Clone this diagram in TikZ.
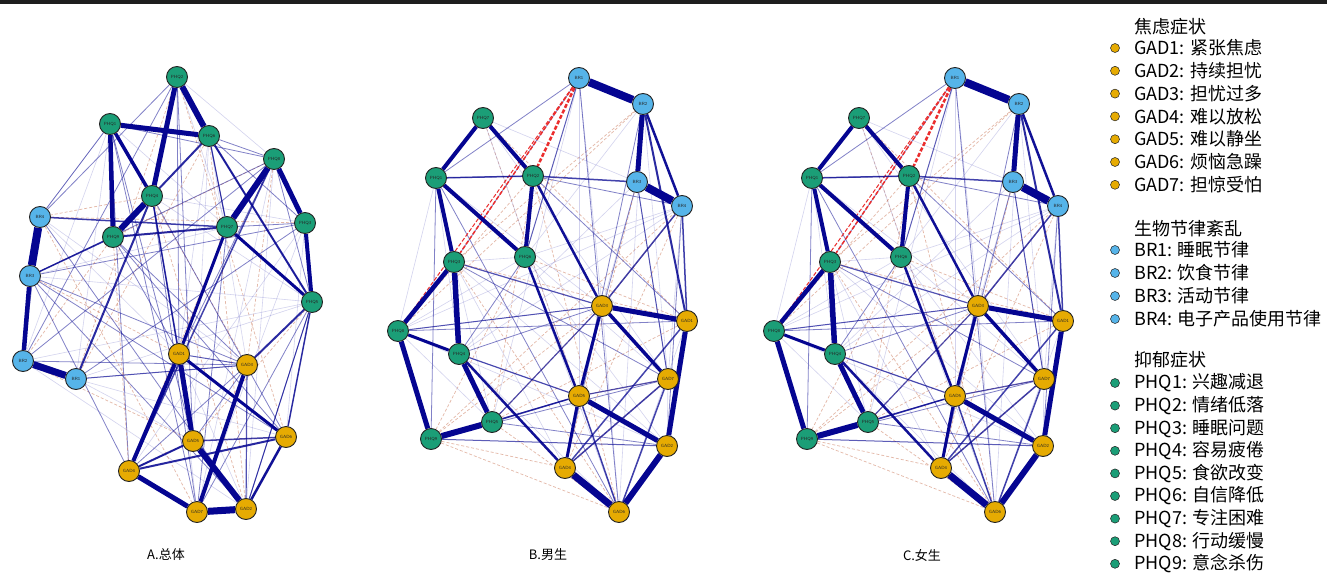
\documentclass[tikz,border=0pt]{standalone}
\usepackage{fontspec}
\newfontfamily\cjk{Noto Sans CJK SC}

\pgfdeclarelayer{bg}
\pgfdeclarelayer{web}
\pgfdeclarelayer{strong}
\pgfsetlayers{bg,web,strong,main}

\definecolor{gadc}{RGB}{230,171,2}
\definecolor{brc}{RGB}{86,180,233}
\definecolor{phqc}{RGB}{27,158,119}
\definecolor{edgeblue}{RGB}{5,5,145}
\definecolor{webblue}{RGB}{110,110,200}
\definecolor{negbrown}{RGB}{205,125,95}
\definecolor{negred}{RGB}{235,45,45}
\definecolor{ringc}{RGB}{35,35,35}
\definecolor{barc}{RGB}{30,30,30}

\tikzset{
  sym/.style={circle, draw=ringc, line width=0.9pt, minimum size=21pt, inner sep=0pt,
              font=\fontsize{4.5}{5}\selectfont\sffamily, text=black!85},
  phq/.style={sym, fill=phqc},
  gad/.style={sym, fill=gadc},
  br/.style={sym, fill=brc},
  webfaint/.style={draw=webblue, draw opacity=0.3, line width=0.6pt},
  webmid/.style={draw=edgeblue, draw opacity=0.5, line width=0.8pt},
  webneg/.style={draw=negbrown, draw opacity=0.55, line width=0.7pt, dash pattern=on 3pt off 2pt},
  negstrong/.style={draw=negred, dash pattern=on 4pt off 2pt},
  posedge/.style={draw=edgeblue},
  legdot/.style={circle, draw=ringc, line width=0.5pt, minimum size=9pt, inner sep=0pt},
  legtxt/.style={anchor=west, inner sep=0pt, font=\cjk\fontsize{18}{20}\selectfont},
  paneltitle/.style={inner sep=0pt, font=\cjk\fontsize{13}{14}\selectfont},
}

% symptom names used in every panel
\def\symlist{p1,p2,p3,p4,p5,p6,p7,p8,p9,b1,b2,b3,b4,d1,d2,d3,d4,d5,d6,d7}

% faint background web of weak partial correlations
\newcommand\weakweb[2]{%
  \begin{pgfonlayer}{web}
  \foreach \u [count=\i] in \symlist {
    \foreach \v [count=\j] in \symlist {
      \ifnum\j>\i
        \pgfmathtruncatemacro\r{mod(\i*\i*7+\j*\j*3+#2*\i*\j+\i*\j,17)}
        \ifnum\r<5 \draw[webfaint] (#1-\u) -- (#1-\v);\fi
        \ifnum\r=5 \draw[webmid] (#1-\u) -- (#1-\v);\fi
        \ifnum\r=6 \draw[webmid] (#1-\u) -- (#1-\v);\fi
        \ifnum\r=7 \draw[webneg] (#1-\u) -- (#1-\v);\fi
        \ifnum\r=8 \draw[webneg] (#1-\u) -- (#1-\v);\fi
      \fi
    }
  }
  \end{pgfonlayer}}

% strong positive edges: from/to/width
\newcommand\strongedges[2]{%
  \begin{pgfonlayer}{strong}
  \foreach \a/\b/\w in {#2} {
    \pgfmathsetmacro\eop{min(1,0.45+0.2*\w)}
    \draw[posedge, line width=\w, draw opacity=\eop] (#1-\a) -- (#1-\b);
  }
  \end{pgfonlayer}}

% strong negative edges: from/to/width
\newcommand\negedges[2]{%
  \begin{pgfonlayer}{strong}
  \foreach \a/\b/\w in {#2} {
    \draw[negstrong, line width=\w] (#1-\a) -- (#1-\b);
  }
  \end{pgfonlayer}}

% network layout shared by the male and female panels
\newcommand\sexpanel[2]{%
  \begin{scope}[xshift=#2]
    \node[phq] (#1-p1) at (483,118) {PHQ7};
    \node[phq] (#1-p2) at (436,178) {PHQ1};
    \node[phq] (#1-p3) at (533,176) {PHQ2};
    \node[phq] (#1-p4) at (454,262) {PHQ3};
    \node[phq] (#1-p5) at (525,257) {PHQ6};
    \node[phq] (#1-p6) at (398,331) {PHQ8};
    \node[phq] (#1-p7) at (459,354) {PHQ4};
    \node[phq] (#1-p8) at (492,422) {PHQ5};
    \node[phq] (#1-p9) at (431,439) {PHQ9};
    \node[br]  (#1-b1) at (579,78)  {BR1};
    \node[br]  (#1-b2) at (643,104) {BR2};
    \node[br]  (#1-b3) at (637,182) {BR3};
    \node[br]  (#1-b4) at (682,206) {BR4};
    \node[gad] (#1-d1) at (602,306) {GAD3};
    \node[gad] (#1-d2) at (687,321) {GAD1};
    \node[gad] (#1-d3) at (668,379) {GAD7};
    \node[gad] (#1-d4) at (579,396) {GAD5};
    \node[gad] (#1-d5) at (667,446) {GAD2};
    \node[gad] (#1-d6) at (565,468) {GAD4};
    \node[gad] (#1-d7) at (619,512) {GAD6};
  \end{scope}
  \weakweb{#1}{5}
  \negedges{#1}{b1/p3/2.5, b1/p4/1.5, b1/p6/1}
  \strongedges{#1}{b1/b2/8, b2/b3/5, b3/b4/8, b2/b4/2.5, b1/p5/1,
    p1/p2/4, p1/p3/4, p3/d1/2.5, p2/p3/1.5, p2/p5/4, p2/p4/4, p3/p5/4, p3/b3/1.5,
    p4/p6/4.5, p4/p7/5.5, p4/d1/1.2, p6/p7/3, p6/p9/5, p9/p8/6, p7/p8/5, p7/d6/2.5,
    p7/d4/1.2, p6/d1/1, p8/d4/1.5, p8/d1/1.2, p5/d4/2.5, p9/d5/1,
    d1/d2/5, d1/d3/3.5, d1/d4/3, d2/d5/5, d4/d5/5, d6/d7/7, d5/d7/6, d4/d6/3,
    d6/d3/1.5, d6/d2/1.5, d4/d3/1.2, d3/d7/1.5, d4/d7/1.5, b4/d1/1.5, b2/d2/2,
    b4/d2/1.5, b3/d3/1}
}

\begin{document}
\begin{tikzpicture}[x=1pt, y=-1pt]
  \useasboundingbox (0,0) rectangle (1327,575);
  \begin{pgfonlayer}{bg}
    \fill[white] (0,0) rectangle (1327,575);
    \fill[barc] (0,0) rectangle (1327,4);
  \end{pgfonlayer}

  % ---------------- A: whole sample ----------------
  \node[phq] (A-p1) at (177,77)  {PHQ2};
  \node[phq] (A-p2) at (110,124) {PHQ1};
  \node[phq] (A-p3) at (209,136) {PHQ6};
  \node[phq] (A-p4) at (274,159) {PHQ8};
  \node[phq] (A-p5) at (152,196) {PHQ4};
  \node[phq] (A-p6) at (227,227) {PHQ7};
  \node[phq] (A-p7) at (305,223) {PHQ3};
  \node[phq] (A-p8) at (113,237) {PHQ9};
  \node[phq] (A-p9) at (312,302) {PHQ5};
  \node[br]  (A-b4) at (40,217)  {BR4};
  \node[br]  (A-b3) at (30,276)  {BR3};
  \node[br]  (A-b2) at (23,361)  {BR2};
  \node[br]  (A-b1) at (76,379)  {BR1};
  \node[gad] (A-d1) at (179,354) {GAD1};
  \node[gad] (A-d2) at (247,365) {GAD3};
  \node[gad] (A-d3) at (193,441) {GAD5};
  \node[gad] (A-d4) at (286,437) {GAD6};
  \node[gad] (A-d5) at (129,471) {GAD4};
  \node[gad] (A-d6) at (197,512) {GAD7};
  \node[gad] (A-d7) at (246,509) {GAD2};
  \weakweb{A}{3}
  \strongedges{A}{p1/p3/6, p1/p5/5, p2/p3/5, p2/p8/4.5, p2/p5/3.5, p5/p8/6, p3/p5/2,
    p4/p6/6, p4/p7/5, p7/p9/4, p6/p9/3, p6/p8/2, p3/p9/2, p3/p6/1.2,
    b4/b3/8, b3/b2/4.5, b2/b1/7, b4/p6/1.5, p8/b3/1.5, p5/b1/2, p5/d1/1.5, p6/d1/3,
    p4/d5/1.5, d1/d3/5, d1/d5/4, d1/d4/3, d2/d6/4, d3/d7/6, d6/d7/7, d5/d6/5,
    d4/d7/2.5, d5/d3/2, d5/d4/2, d3/d4/1.5, d2/p9/2, d4/p9/1.5, d2/d7/1.2,
    d1/d2/1, b1/d2/1, p9/d7/1, p2/b4/0.8}

  % ---------------- B: boys, C: girls ----------------
  \sexpanel{B}{0pt}
  \sexpanel{C}{376pt}

  % panel captions
  \node[paneltitle] (capA) at (166,555) {A.总体};
  \node[paneltitle] (capB) at (548,555) {B.男生};
  \node[paneltitle] (capC) at (922,555) {C.女生};

  % ---------------- legend ----------------
  \node[legtxt] (lg-head-gad) at (1134,27) {焦虑症状};
  \foreach \t [count=\k] in {GAD1: 紧张焦虑, GAD2: 持续担忧, GAD3: 担忧过多, GAD4: 难以放松,
                             GAD5: 难以静坐, GAD6: 烦恼急躁, GAD7: 担惊受怕} {
    \pgfmathsetmacro\yy{48+(\k-1)*22.8}
    \node[legdot, fill=gadc] (lg-gad-dot-\k) at (1115,\yy) {};
    \node[legtxt] (lg-gad-\k) at (1134,\yy) {\t};
  }
  \node[legtxt] (lg-head-br) at (1134,229) {生物节律紊乱};
  \foreach \t [count=\k] in {BR1: 睡眠节律, BR2: 饮食节律, BR3: 活动节律, BR4: 电子产品使用节律} {
    \pgfmathsetmacro\yy{250+(\k-1)*23}
    \node[legdot, fill=brc] (lg-br-dot-\k) at (1115,\yy) {};
    \node[legtxt] (lg-br-\k) at (1134,\yy) {\t};
  }
  \node[legtxt] (lg-head-phq) at (1134,360) {抑郁症状};
  \foreach \t [count=\k] in {PHQ1: 兴趣减退, PHQ2: 情绪低落, PHQ3: 睡眠问题, PHQ4: 容易疲倦,
                             PHQ5: 食欲改变, PHQ6: 自信降低, PHQ7: 专注困难, PHQ8: 行动缓慢,
                             PHQ9: 意念杀伤} {
    \pgfmathsetmacro\yy{383+(\k-1)*22.6}
    \node[legdot, fill=phqc] (lg-phq-dot-\k) at (1115,\yy) {};
    \node[legtxt] (lg-phq-\k) at (1134,\yy) {\t};
  }
\end{tikzpicture}
\end{document}
